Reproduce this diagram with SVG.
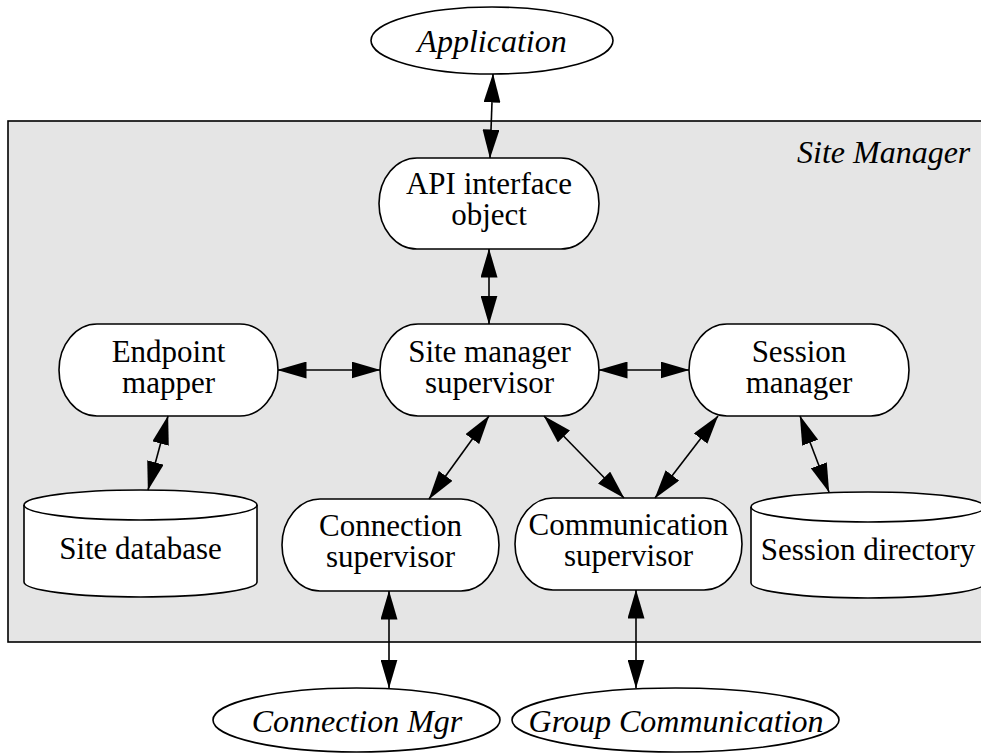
<svg xmlns="http://www.w3.org/2000/svg" width="981" height="753" viewBox="0 0 981 753">
<style>
.box{fill:#fff;stroke:#000;stroke-width:1.6}
.t{font-family:"Liberation Serif","Times New Roman",serif;font-size:31px;fill:#000;text-anchor:middle}
.i{font-style:italic;font-size:32px}
.c line{stroke:#000;stroke-width:1.6;marker-start:url(#ah);marker-end:url(#ah)}
</style>
<defs>
<marker id="ah" markerUnits="userSpaceOnUse" markerWidth="29" markerHeight="17" viewBox="0 0 29 17" refX="28.5" refY="8.5" orient="auto-start-reverse">
<path d="M0,0 L29,8.5 L0,17 z" fill="#000"/>
</marker>
</defs>
<rect id="site-manager" x="8" y="121" width="990" height="521" fill="#e5e5e5" stroke="#000" stroke-width="1.6"/>
<text class="t i" x="797" y="163" style="text-anchor:start">Site Manager</text>

<g id="application">
<ellipse class="box" cx="492" cy="40.5" rx="121" ry="33.5"/>
<text class="t i" x="492" y="52">Application</text>
</g>
<g id="api">
<rect class="box" x="379" y="158" width="220" height="91" rx="38" ry="45.5"/>
<text class="t" x="489" y="194">API interface</text>
<text class="t" x="489" y="225">object</text>
</g>
<g id="endpoint-mapper">
<rect class="box" x="59" y="324" width="219" height="92" rx="38" ry="46"/>
<text class="t" x="168.5" y="362">Endpoint</text>
<text class="t" x="168.5" y="393">mapper</text>
</g>
<g id="site-manager-supervisor">
<rect class="box" x="380" y="324" width="219" height="92" rx="38" ry="46"/>
<text class="t" x="489.5" y="362">Site manager</text>
<text class="t" x="489.5" y="393">supervisor</text>
</g>
<g id="session-manager">
<rect class="box" x="689" y="324" width="220" height="92" rx="38" ry="46"/>
<text class="t" x="799" y="362">Session</text>
<text class="t" x="799" y="393">manager</text>
</g>
<g id="site-database">
<path class="box" d="M24,505 A116.5,15 0 0 1 257,505 L257,582 A116.5,15 0 0 1 24,582 Z"/>
<path d="M24,505 A116.5,15 0 0 0 257,505" fill="none" stroke="#000" stroke-width="1.6"/>
<text class="t" x="140.5" y="559">Site database</text>
</g>
<g id="connection-supervisor">
<rect class="box" x="282" y="499" width="217" height="92" rx="38" ry="46"/>
<text class="t" x="390.5" y="536">Connection</text>
<text class="t" x="390.5" y="567">supervisor</text>
</g>
<g id="communication-supervisor">
<rect class="box" x="515" y="498" width="227" height="92" rx="38" ry="46"/>
<text class="t" x="628.5" y="535">Communication</text>
<text class="t" x="628.5" y="566">supervisor</text>
</g>
<g id="session-directory">
<path class="box" d="M751,507 A117,15 0 0 1 985,507 L985,583 A117,15 0 0 1 751,583 Z"/>
<path d="M751,507 A117,15 0 0 0 985,507" fill="none" stroke="#000" stroke-width="1.6"/>
<text class="t" x="868" y="560">Session directory</text>
</g>
<g id="connection-mgr">
<ellipse class="box" cx="356.5" cy="720" rx="143.5" ry="32"/>
<text class="t i" x="357" y="732">Connection Mgr</text>
</g>
<g id="group-communication">
<ellipse class="box" cx="675.5" cy="720" rx="163.5" ry="32"/>
<text class="t i" x="676" y="732">Group Communication</text>
</g>

<g id="connectors" class="c">
<line x1="493" y1="74" x2="490" y2="158"/>
<line x1="489" y1="249" x2="489" y2="324"/>
<line x1="278" y1="370" x2="380" y2="370"/>
<line x1="599" y1="370" x2="689" y2="370"/>
<line x1="168" y1="416" x2="148" y2="490"/>
<line x1="489" y1="416" x2="429" y2="499"/>
<line x1="544" y1="416" x2="624" y2="498"/>
<line x1="718" y1="416" x2="655" y2="498"/>
<line x1="800" y1="416" x2="829" y2="492"/>
<line x1="389" y1="591" x2="389" y2="688"/>
<line x1="636" y1="590" x2="636" y2="688"/>
</g>
</svg>
